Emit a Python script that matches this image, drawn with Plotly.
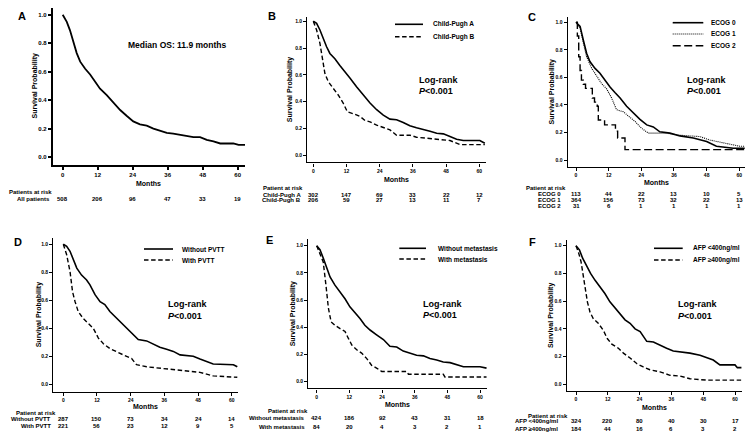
import plotly.graph_objects as go

W, H = 754, 442
FONT = "Liberation Sans, Arial, sans-serif"

# ---------------- data ----------------
month_ticks = [0, 12, 24, 36, 48, 60]
surv_ticks = [0.0, 0.2, 0.4, 0.6, 0.8, 1.0]

# A: all patients
a_all_t = [0, 1.4, 2.5, 3.7, 4.8, 6, 7.7, 9.4, 11.1, 12.8, 15.1, 17.4, 19.7, 21.9, 24.2, 26.5, 28.8,
           31.1, 33.4, 35.7, 37.9, 40.2, 42.5, 44.8, 47.1, 49.4, 51.7, 54, 58.5, 60.3, 62.5]
a_all_s = [1.0, 0.95, 0.89, 0.81, 0.73, 0.67, 0.62, 0.58, 0.53, 0.48, 0.435, 0.38, 0.33, 0.29, 0.25,
           0.23, 0.22, 0.20, 0.185, 0.17, 0.165, 0.155, 0.15, 0.14, 0.14, 0.12, 0.11, 0.095, 0.095,
           0.085, 0.085]

# B: Child-Pugh
b_a_t = [0, 1.2, 2.4, 3.6, 4.8, 6, 7.8, 9.6, 11.4, 13.3, 15.7, 18, 20.5, 22.9, 25.3, 27.7, 30.1,
         32.5, 34.9, 37.3, 39.8, 42.2, 44.6, 47, 49.4, 51.8, 54.2, 60.2, 62]
b_a_s = [1.0, 0.985, 0.935, 0.87, 0.81, 0.76, 0.72, 0.67, 0.62, 0.575, 0.51, 0.45, 0.39, 0.34, 0.30,
         0.27, 0.265, 0.245, 0.22, 0.205, 0.195, 0.18, 0.165, 0.16, 0.14, 0.12, 0.11, 0.11, 0.09]
b_b_t = [0, 1.2, 2.4, 3.4, 4.2, 5.4, 7.2, 9, 10.8, 12.3, 14.5, 16.9, 18.7, 20.5, 22.9, 25.3, 27.7,
         30.1, 34.9, 37.3, 43.3, 49.4, 53, 62]
b_b_s = [1.0, 0.935, 0.835, 0.71, 0.61, 0.55, 0.50, 0.45, 0.39, 0.325, 0.31, 0.29, 0.26, 0.25, 0.225,
         0.21, 0.19, 0.15, 0.15, 0.135, 0.125, 0.11, 0.08, 0.08]

# C: ECOG
c_0_t = [0, 1.5, 2.7, 3.9, 5.1, 7, 8.8, 10.6, 12.5, 14.3, 16.2, 18.6, 21.1, 23.5, 26, 28.4, 30.8,
         34.5, 38.2, 43.1, 48, 51.6, 57.8, 62]
c_0_s = [1.0, 0.97, 0.87, 0.775, 0.715, 0.665, 0.63, 0.58, 0.53, 0.49, 0.45, 0.39, 0.34, 0.295, 0.255,
         0.24, 0.205, 0.195, 0.175, 0.16, 0.135, 0.10, 0.085, 0.085]
c_1_t = [0, 1.5, 2.7, 3.9, 5.8, 7.6, 9.4, 11.3, 13.1, 14.9, 17.4, 19.2, 21.7, 24.1, 26.6, 33.3, 38.2,
         45.5, 49.2, 55.3, 60.2, 62]
c_1_s = [1.0, 0.96, 0.85, 0.75, 0.665, 0.605, 0.555, 0.515, 0.45, 0.365, 0.35, 0.32, 0.28, 0.23,
         0.195, 0.195, 0.18, 0.17, 0.145, 0.12, 0.10, 0.10]
c_2_t = [0, 0.5, 1.0, 1.5, 2.0, 2.7, 3.5, 6.0, 6.8, 7.8, 8.2, 10.5, 14.5, 15.3, 18.0, 62]
c_2_s = [1.0, 0.90, 0.75, 0.65, 0.58, 0.55, 0.52, 0.45, 0.42, 0.39, 0.29, 0.255, 0.21, 0.16, 0.075,
         0.075]

# D: PVTT
d_no_t = [0, 1.2, 2.4, 3.6, 4.8, 6.5, 8.3, 9.5, 11.3, 13.1, 14.8, 16.6, 18.4, 20.2, 22.6, 25, 26.7,
          29.7, 32.1, 34.4, 36.8, 39.2, 41.6, 46.3, 48.7, 51.1, 53.4, 60.6, 62]
d_no_s = [1.0, 0.985, 0.95, 0.89, 0.83, 0.78, 0.745, 0.71, 0.64, 0.59, 0.57, 0.52, 0.485, 0.45, 0.40,
          0.355, 0.32, 0.31, 0.285, 0.265, 0.25, 0.235, 0.21, 0.20, 0.18, 0.16, 0.145, 0.14, 0.125]
d_yes_t = [0, 1.2, 2.4, 3.3, 4.2, 5.3, 7.1, 8.9, 10.7, 12.5, 14.3, 16.6, 19, 21.4, 24.3, 26.1, 29.7,
           36.8, 42.8, 48.7, 53.4, 62]
d_yes_s = [1.0, 0.925, 0.805, 0.66, 0.59, 0.52, 0.47, 0.435, 0.40, 0.33, 0.29, 0.255, 0.235, 0.21,
           0.185, 0.14, 0.125, 0.11, 0.10, 0.085, 0.06, 0.05]

# E: metastasis
e_no_t = [0, 1.2, 2.4, 3.7, 4.9, 6.7, 8.6, 10.4, 12.2, 14.1, 15.9, 17.7, 19.6, 22, 24.5, 26.9, 29.4,
          31.8, 34.3, 36.7, 39.2, 41.6, 44.1, 46.5, 49, 51.4, 53.9, 60, 62.4]
e_no_s = [1.0, 0.97, 0.91, 0.83, 0.77, 0.71, 0.66, 0.61, 0.55, 0.51, 0.465, 0.415, 0.38, 0.345, 0.31,
          0.26, 0.255, 0.225, 0.21, 0.195, 0.19, 0.17, 0.16, 0.145, 0.14, 0.125, 0.11, 0.11, 0.10]
e_yes_t = [0, 1.5, 2.4, 3.4, 4.3, 5.3, 6.7, 8.6, 10.4, 11.6, 12.9, 14.7, 16.5, 18.4, 20.2, 22, 23.9,
           33.1, 33.7, 46.5, 47.1, 62.4]
e_yes_s = [1.0, 0.93, 0.88, 0.71, 0.54, 0.44, 0.415, 0.39, 0.37, 0.32, 0.27, 0.235, 0.21, 0.17, 0.12,
           0.10, 0.075, 0.075, 0.055, 0.055, 0.035, 0.035]

# F: AFP
f_lo_t = [0, 1.3, 2.5, 4, 5.5, 7.2, 9.1, 10.9, 12.8, 14.7, 16.6, 18.5, 20.4, 22.3, 24.2, 26.7, 29.2,
          31.7, 34.2, 36.7, 39.2, 43, 46.8, 49.3, 51.8, 54.3, 60, 60.9, 62.5]
f_lo_s = [1.0, 0.97, 0.91, 0.85, 0.80, 0.75, 0.705, 0.655, 0.595, 0.55, 0.51, 0.465, 0.44, 0.40, 0.38,
          0.31, 0.305, 0.28, 0.26, 0.24, 0.235, 0.225, 0.21, 0.19, 0.175, 0.14, 0.14, 0.12, 0.12]
f_hi_t = [0, 0.9, 1.9, 3.4, 4.3, 5.3, 6.5, 8.4, 10.3, 11.8, 13.5, 16, 17.9, 20.4, 22.9, 25.4, 27.9,
          31.7, 35.5, 39.2, 43, 49.3, 62.5]
f_hi_s = [1.0, 0.955, 0.885, 0.715, 0.595, 0.52, 0.475, 0.44, 0.39, 0.33, 0.29, 0.26, 0.225, 0.19,
          0.15, 0.125, 0.105, 0.09, 0.065, 0.06, 0.04, 0.03, 0.03]

# risk tables
risk_a_labels = ["All patients"]
risk_a = [[508, 206, 96, 47, 33, 19]]
risk_b_labels = ["Child-Pugh A", "Child-Pugh B"]
risk_b = [[302, 147, 69, 33, 22, 12], [206, 59, 27, 13, 11, 7]]
risk_c_labels = ["ECOG 0", "ECOG 1", "ECOG 2"]
risk_c = [[113, 44, 22, 13, 10, 5], [364, 156, 73, 32, 22, 13], [31, 6, 1, 1, 1, 1]]
risk_d_labels = ["Without PVTT", "With PVTT"]
risk_d = [[287, 150, 73, 34, 24, 14], [221, 56, 23, 12, 9, 5]]
risk_e_labels = ["Without metastasis", "With metastasis"]
risk_e = [[424, 186, 92, 43, 31, 18], [84, 20, 4, 3, 2, 1]]
risk_f_labels = ["AFP <400ng/ml", "AFP \u2265400ng/ml"]
risk_f = [[324, 220, 80, 40, 30, 17], [184, 44, 16, 6, 3, 2]]

# ---------------- layout geometry (pixels) ----------------
SOLID_A = dict(dash="solid", width=1.8)
SOLID = dict(dash="solid", width=1.6)
DASH = dict(dash="4.5px,2.6px", width=1.4)
DOT = dict(dash="1px,1px", width=1.1)
LDASH = dict(dash="8px,3.5px", width=1.4)

panels = [
    dict(letter="A", letpos=(22, 15.7),
         geo=dict(axL=52.7, x0=62.7, x60=237.7, axR=245, yT=8, y1=14.7, y0=157, axB=165),
         series=[(a_all_t, a_all_s, "All patients", SOLID_A, "linear")],
         legend=None, legend_pos=None,
         note=("Median OS: 11.9 months", 125.5, 45), logrank=None,
         tickfont=6, ytitle_x=35, months_y=183.3,
         risk_title="Patients at risk", risk_title_x=7.3, risk_label_r=51.7,
         risk_ys=[192.3, 199], risk_labels=risk_a_labels, risk=risk_a),
    dict(letter="B", letpos=(272, 16),
         geo=dict(axL=307.3, x0=313.3, x60=479.3, axR=486, yT=16.7, y1=21.3, y0=155.3, axB=162.3),
         series=[(b_a_t, b_a_s, "Child-Pugh A", SOLID, "linear"),
                 (b_b_t, b_b_s, "Child-Pugh B", DASH, "linear")],
         legend=dict(l0=395, l1=423, tx=430.7, ys=[24.3, 36.7]),
         note=None, logrank=(416.7, 80.0, 91.2),
         tickfont=5, ytitle_x=290.7, months_y=179,
         risk_title="Patient at risk", risk_title_x=261, risk_label_r=303.3,
         risk_ys=[188.3, 194.5, 200], risk_labels=risk_b_labels, risk=risk_b),
    dict(letter="C", letpos=(532, 17),
         geo=dict(axL=567.7, x0=576, x60=739.3, axR=745, yT=16.7, y1=22.3, y0=160, axB=166.7),
         series=[(c_0_t, c_0_s, "ECOG 0", SOLID, "linear"),
                 (c_1_t, c_1_s, "ECOG 1", DOT, "linear"),
                 (c_2_t, c_2_s, "ECOG 2", LDASH, "hv")],
         legend=dict(l0=672.7, l1=703.3, tx=709.3, ys=[22.7, 34, 45.7]),
         note=None, logrank=(685, 79.5, 90.7),
         tickfont=5, ytitle_x=551.7, months_y=182.7,
         risk_title="Patient at risk", risk_title_x=524, risk_label_r=563.3,
         risk_ys=[188.3, 194.3, 200, 205.7], risk_labels=risk_c_labels, risk=risk_c),
    dict(letter="D", letpos=(17.5, 242),
         geo=dict(axL=53.3, x0=63.3, x60=231.7, axR=238, yT=238.3, y1=244.3, y0=384.3, axB=391.7),
         series=[(d_no_t, d_no_s, "Without PVTT", SOLID, "linear"),
                 (d_yes_t, d_yes_s, "With PVTT", DASH, "linear")],
         legend=dict(l0=144, l1=173, tx=180, ys=[249, 260]),
         note=None, logrank=(165.7, 304.4, 315.6),
         tickfont=5, ytitle_x=39.3, months_y=406.7,
         risk_title="Patient at risk", risk_title_x=14, risk_label_r=53.3,
         risk_ys=[412.7, 419, 426], risk_labels=risk_d_labels, risk=risk_d),
    dict(letter="E", letpos=(269, 240.5),
         geo=dict(axL=308.3, x0=316.7, x60=480, axR=487, yT=239, y1=245.7, y0=381.7, axB=388.3),
         series=[(e_no_t, e_no_s, "Without metastasis", SOLID, "linear"),
                 (e_yes_t, e_yes_s, "With metastasis", DASH, "linear")],
         legend=dict(l0=399.3, l1=426, tx=436, ys=[248.3, 259]),
         note=None, logrank=(421, 304.2, 315.4),
         tickfont=5, ytitle_x=292.7, months_y=404.3,
         risk_title="Patient at risk", risk_title_x=266, risk_label_r=306.7,
         risk_ys=[411, 418.3, 426.7], risk_labels=risk_e_labels, risk=risk_e),
    dict(letter="F", letpos=(532, 242),
         geo=dict(axL=566.7, x0=576, x60=735, axR=741.7, yT=240, y1=245.7, y0=384.3, axB=390.7),
         series=[(f_lo_t, f_lo_s, "AFP <400ng/ml", SOLID, "linear"),
                 (f_hi_t, f_hi_s, "AFP \u2265400ng/ml", DASH, "linear")],
         legend=dict(l0=654, l1=682.7, tx=690.7, ys=[248.3, 260]),
         note=None, logrank=(676, 304.4, 315.6),
         tickfont=5, ytitle_x=551.7, months_y=407,
         risk_title="Patient at risk", risk_title_x=526, risk_label_r=559.5,
         risk_ys=[416, 420.7, 429.3], risk_labels=risk_f_labels, risk=risk_f),
]


def px(x):
    return x / W


def py(y):
    return 1 - y / H


def bold(size):
    return dict(family=FONT, size=size, color="black", weight="bold")


fig = go.Figure()
annotations = []
shapes = []

for i, p in enumerate(panels, start=1):
    g = p["geo"]
    ppm = (g["x60"] - g["x0"]) / 60.0
    ppu = g["y0"] - g["y1"]
    xr = [(g["axL"] - g["x0"]) / ppm, (g["axR"] - g["x0"]) / ppm]
    yr = [(g["y0"] - g["axB"]) / ppu, (g["y0"] - g["yT"]) / ppu]
    xname = "xaxis" if i == 1 else f"xaxis{i}"
    yname = "yaxis" if i == 1 else f"yaxis{i}"
    xref = "x" if i == 1 else f"x{i}"
    yref = "y" if i == 1 else f"y{i}"
    lw = 1.6 if i == 1 else 1.4
    common = dict(showline=True, linecolor="black", linewidth=lw, ticks="outside", ticklen=3,
                  tickwidth=lw, tickcolor="black", showgrid=False, zeroline=False,
                  tickfont=bold(p["tickfont"]), fixedrange=True)
    fig.update_layout(**{
        xname: dict(domain=[px(g["axL"]), px(g["axR"])], range=xr, anchor=yref,
                    tickvals=month_ticks, ticktext=[str(m) for m in month_ticks], **common),
        yname: dict(domain=[py(g["axB"]), py(g["yT"])], range=yr, anchor=xref,
                    tickvals=surv_ticks, ticktext=[f"{v:.1f}" for v in surv_ticks], **common),
    })
    for (t, s, name, ln, shape) in p["series"]:
        fig.add_trace(go.Scatter(x=t, y=s, mode="lines", name=name, xaxis=xref, yaxis=yref,
                                 line=dict(color="black", width=ln["width"], dash=ln["dash"],
                                           shape=shape),
                                 showlegend=False, hoverinfo="skip"))
    # panel letter
    annotations.append(dict(text=p["letter"], x=px(p["letpos"][0]), y=py(p["letpos"][1]),
                            xref="paper", yref="paper", showarrow=False, xanchor="center",
                            yanchor="middle", font=bold(11)))
    # axis titles
    annotations.append(dict(text="Survival Probability", x=px(p["ytitle_x"]),
                            y=py((g["yT"] + g["axB"]) / 2), xref="paper", yref="paper",
                            showarrow=False, textangle=-90, xanchor="center", yanchor="middle",
                            font=bold(7)))
    annotations.append(dict(text="Months", x=px((g["axL"] + g["axR"]) / 2), y=py(p["months_y"]),
                            xref="paper", yref="paper", showarrow=False, xanchor="center",
                            yanchor="middle", font=bold(7)))
    # legend
    if p["legend"]:
        lg = p["legend"]
        for (t, s, name, ln, shape), yy in zip(p["series"], lg["ys"]):
            shapes.append(dict(type="line", xref="paper", yref="paper", x0=px(lg["l0"]),
                               x1=px(lg["l1"]), y0=py(yy), y1=py(yy),
                               line=dict(color="black", width=ln["width"], dash=ln["dash"])))
            annotations.append(dict(text=name, x=px(lg["tx"]), y=py(yy), xref="paper",
                                    yref="paper", showarrow=False, xanchor="left",
                                    yanchor="middle", font=bold(6.5)))
    if p["note"]:
        txt, nx, ny = p["note"]
        annotations.append(dict(text=txt, x=px(nx), y=py(ny), xref="paper", yref="paper",
                                showarrow=False, xanchor="left", yanchor="middle", font=bold(8.5)))
    if p["logrank"]:
        lx, ly1, ly2 = p["logrank"]
        annotations.append(dict(text="Log-rank", x=px(lx), y=py(ly1), xref="paper", yref="paper",
                                showarrow=False, xanchor="left", yanchor="middle", font=bold(9)))
        annotations.append(dict(text="<i>P</i>&lt;0.001", x=px(lx), y=py(ly2), xref="paper",
                                yref="paper", showarrow=False, xanchor="left", yanchor="middle",
                                font=bold(9)))
    # risk table
    annotations.append(dict(text=p["risk_title"], x=px(p["risk_title_x"]), y=py(p["risk_ys"][0]),
                            xref="paper", yref="paper", showarrow=False, xanchor="left",
                            yanchor="middle", font=bold(6)))
    for lab, row, yy in zip(p["risk_labels"], p["risk"], p["risk_ys"][1:]):
        annotations.append(dict(text=lab, x=px(p["risk_label_r"]), y=py(yy), xref="paper",
                                yref="paper", showarrow=False, xanchor="right", yanchor="middle",
                                font=bold(6)))
        for m, n in zip(month_ticks, row):
            annotations.append(dict(text=str(n), x=m, y=py(yy), xref=xref, yref="paper",
                                    showarrow=False, xanchor="center", yanchor="middle",
                                    font=bold(6)))

fig.update_layout(width=W, height=H, margin=dict(l=0, r=0, t=0, b=0),
                  paper_bgcolor="white", plot_bgcolor="white", showlegend=False,
                  annotations=annotations, shapes=shapes,
                  font=dict(family=FONT, color="black"))

fig.write_html("out.html", config=dict(responsive=False, displayModeBar=False),
               post_script="document.body.style.margin='0';document.body.style.padding='0';"
                           "document.body.style.overflow='hidden';")
